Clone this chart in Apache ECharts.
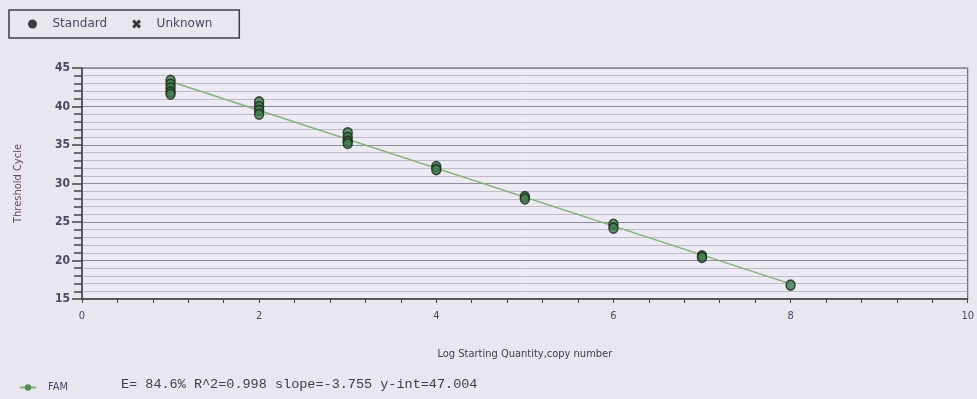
<!DOCTYPE html>
<html>
<head>
<meta charset="utf-8">
<style>
  html, body { margin: 0; padding: 0; background: #e8e6ef; }
  #chart { width: 977px; height: 399px; }
</style>
<script src="https://cdn.jsdelivr.net/npm/echarts@6/dist/echarts.min.js"></script>
</head>
<body>
<div id="chart"></div>
<script>
// standard points: log quantity vs threshold cycle
var stdX = [1, 1, 1, 1, 1, 2, 2, 2, 2, 3, 3, 3, 3, 4, 4, 5, 5, 6, 6, 7, 7, 8];
var stdY = [43.4, 42.9, 42.4, 41.9, 41.6, 40.6, 40.0, 39.5, 39.0, 36.6, 36.0, 35.5, 35.2,
            32.2, 31.8, 28.3, 28.0, 24.7, 24.2, 20.6, 20.4, 16.8];
// regression line end points
var fitX = [1, 8];
var fitY = [43.25, 16.96];
var statsText = 'E= 84.6% R^2=0.998 slope=-3.755 y-int=47.004';

var stdData = [];
for (var i = 0; i < stdX.length; i++) {
    stdData.push([stdX[i], stdY[i]]);
}
var fitData = [];
for (var j = 0; j < fitX.length; j++) {
    fitData.push([fitX[j], fitY[j]]);
}

var textColor = '#4a4766';
var font = 'DejaVu Sans Condensed';

option = {
    backgroundColor: '#e8e6ef',
    animation: false,
    grid: {
        left: 82,
        top: 68,
        right: 8,
        bottom: 100,
        show: true,
        backgroundColor: '#ecebf3',
        borderColor: '#555',
        borderWidth: 1
    },
    legend: [
        {
            left: 9,
            top: 10,
            orient: 'horizontal',
            padding: [8, 27, 8, 19],
            itemGap: 25,
            itemWidth: 10,
            itemHeight: 9,
            borderColor: '#3d3d45',
            borderWidth: 1.5,
            formatter: '{a|{name}}',
            textStyle: {
                color: textColor, fontSize: 12, fontFamily: 'DejaVu Sans',
                rich: { a: { color: textColor, fontSize: 12, fontFamily: 'DejaVu Sans', padding: [0, 0, 0, 10] } }
            },
            data: [
                { name: 'Standard', icon: 'circle', itemStyle: { color: '#111', borderWidth: 0 } },
                { name: 'Unknown',
                  icon: 'path://M2.5,0 L5,2.5 L7.5,0 L10,2.5 L7.5,5 L10,7.5 L7.5,10 L5,7.5 L2.5,10 L0,7.5 L2.5,5 L0,2.5 Z',
                  itemStyle: { color: '#111', borderWidth: 0 } }
            ]
        },
        {
            left: 14,
            top: 377,
            itemWidth: 16,
            itemHeight: 8,
            formatter: '{a|{name}}',
            textStyle: {
                color: textColor, fontSize: 11, fontFamily: font,
                rich: { a: { color: textColor, fontSize: 11, fontFamily: font, padding: [0, 0, 0, 7] } }
            },
            data: ['FAM']
        }
    ],
    xAxis: {
        type: 'value',
        min: 0,
        max: 10,
        interval: 2,
        name: 'Log Starting Quantity,copy number',
        nameLocation: 'middle',
        nameGap: 50,
        nameTextStyle: { color: '#3e3c4c', fontSize: 11, fontFamily: font },
        axisLine: { lineStyle: { color: '#444', width: 1.5 } },
        axisTick: { show: true, length: 4, lineStyle: { color: '#444' } },
        minorTick: { show: true, splitNumber: 5, length: 4, lineStyle: { color: '#444' } },
        axisLabel: { color: textColor, fontSize: 11, fontFamily: font, margin: 12 },
        splitLine: { show: false }
    },
    yAxis: {
        type: 'value',
        min: 15,
        max: 45,
        interval: 5,
        name: 'Threshold Cycle',
        nameLocation: 'middle',
        nameGap: 58,
        nameTextStyle: { color: '#6a4a5e', fontSize: 11, fontFamily: font },
        axisLine: { show: true, lineStyle: { color: '#444', width: 1.5 } },
        axisTick: { show: true, length: 10, lineStyle: { color: '#444', width: 1.5 } },
        minorTick: { show: true, splitNumber: 5, length: 8, lineStyle: { color: '#444', width: 1.5 } },
        axisLabel: { color: textColor, fontSize: 12, fontWeight: 'bold', fontFamily: font, margin: 12 },
        splitLine: { show: true, lineStyle: { color: '#8e8c99', width: 1 } },
        minorSplitLine: { show: true, lineStyle: { color: '#bdbbc8', width: 1 } }
    },
    graphic: [
        {
            type: 'text',
            left: 121,
            top: 377,
            style: {
                text: statsText,
                fill: '#3e3c4c',
                fontSize: 13.5,
                fontFamily: 'Liberation Mono'
            }
        }
    ],
    series: [
        {
            name: 'FAM',
            type: 'line',
            data: fitData,
            symbol: 'circle',
            symbolSize: 7,
            showSymbol: false,
            itemStyle: { color: '#4f8a55' },
            lineStyle: { color: '#86b07a', width: 1.5 },
            z: 2
        },
        {
            name: 'Standard',
            type: 'scatter',
            data: stdData,
            symbol: 'circle',
            symbolSize: [9, 10],
            itemStyle: { color: '#3f7d4a', borderColor: '#1c261c', borderWidth: 1.5 },
            z: 3
        },
        {
            name: 'Unknown',
            type: 'scatter',
            data: [],
            itemStyle: { color: '#111' }
        }
    ]
};

var chart = echarts.init(document.getElementById('chart'));
chart.setOption(option);
</script>
</body>
</html>
